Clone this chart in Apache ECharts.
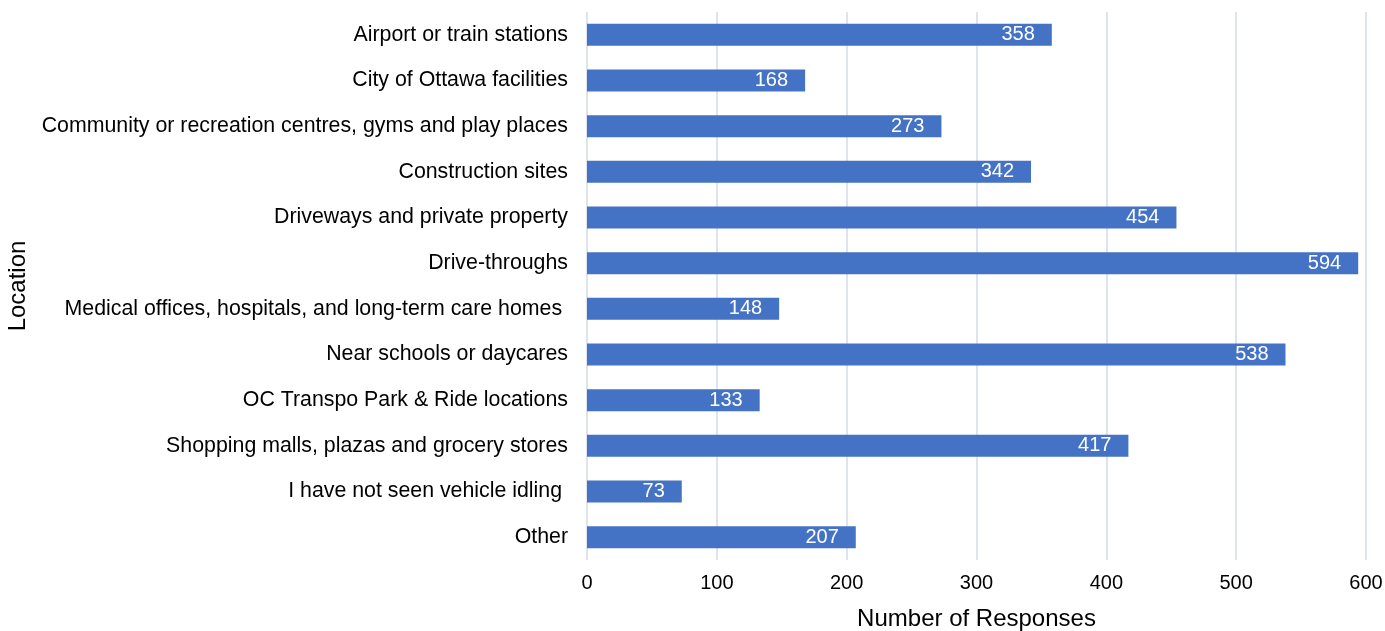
<!DOCTYPE html>
<html>
<head>
<meta charset="utf-8">
<script src="https://cdn.jsdelivr.net/npm/echarts@6/dist/echarts.min.js"></script>
<style>
html,body{margin:0;padding:0;background:#fff;}
#chart{width:1385px;height:631px;}
</style>
</head>
<body>
<div id="chart"></div>
<script>
const categories = [
  "Airport or train stations",
  "City of Ottawa facilities",
  "Community or recreation centres, gyms and play places",
  "Construction sites",
  "Driveways and private property",
  "Drive-throughs",
  "Medical offices, hospitals, and long-term care homes ",
  "Near schools or daycares",
  "OC Transpo Park & Ride locations",
  "Shopping malls, plazas and grocery stores",
  "I have not seen vehicle idling ",
  "Other"
];
const responses = [358, 168, 273, 342, 454, 594, 148, 538, 133, 417, 73, 207];
const xTicks = [0, 100, 200, 300, 400, 500, 600];

const font = "'Liberation Sans', Arial, sans-serif";
const chart = echarts.init(document.getElementById('chart'));
chart.setOption({
  animation: false,
  grid: {left: 587, right: 19, top: 12, bottom: 71, containLabel: false, outerBoundsMode: 'none'},
  xAxis: {
    type: 'value',
    min: xTicks[0],
    max: xTicks[xTicks.length - 1],
    interval: 100,
    name: 'Number of Responses',
    nameLocation: 'middle',
    nameGap: 47,
    nameTextStyle: {fontFamily: font, fontSize: 24, color: '#000'},
    axisLine: {show: false},
    axisTick: {show: false},
    axisLabel: {fontFamily: font, fontSize: 20, color: '#000', margin: 13},
    splitLine: {show: true, lineStyle: {color: '#dfe3ec', width: 2}}
  },
  yAxis: {
    type: 'category',
    data: categories,
    inverse: true,
    name: 'Location',
    nameLocation: 'middle',
    nameGap: 553,
    nameRotate: 90,
    nameTextStyle: {fontFamily: font, fontSize: 24, color: '#000'},
    axisLine: {show: false},
    axisTick: {show: false},
    axisLabel: {fontFamily: font, fontSize: 21.33, color: '#000', margin: 19},
    splitLine: {show: false}
  },
  series: [{
    type: 'bar',
    data: responses,
    barWidth: 22,
    itemStyle: {color: '#4472C4'},
    label: {
      show: true,
      position: 'insideRight',
      distance: 17,
      color: '#fff',
      fontFamily: font,
      fontSize: 20
    }
  }]
});
</script>
</body>
</html>
